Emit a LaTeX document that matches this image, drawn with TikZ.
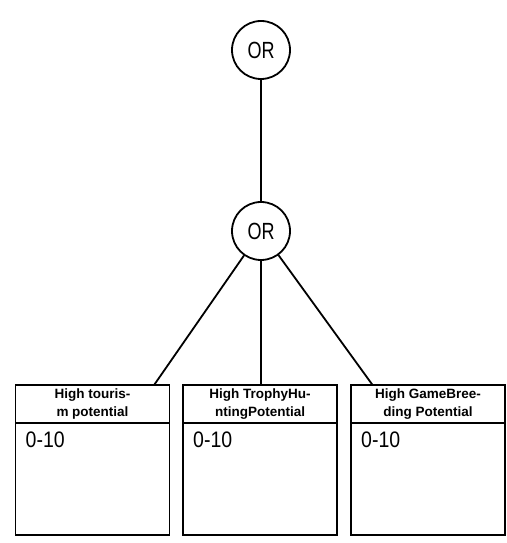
\documentclass[tikz,border=0pt]{standalone}
\usepackage{fontspec}
\setmainfont{Liberation Sans}
\usetikzlibrary{positioning,calc}

\newcommand{\tallword}[2]{\scalebox{1}[#1]{#2}}

\begin{document}
\begin{tikzpicture}[x=1pt,y=1pt,
  node distance=0pt,
  gate/.style={draw,circle,line width=1.8pt,minimum size=58pt,inner sep=0pt,font=\fontsize{18}{22}\selectfont},
  head/.style={draw,line width=1.8pt,outer sep=0pt,minimum width=154pt,minimum height=38pt,inner sep=2pt,align=center,font=\bfseries\fontsize{13.5}{18}\selectfont},
  body/.style={draw,line width=1.8pt,outer sep=0pt,minimum width=154pt,minimum height=112pt},
  val/.style={anchor=north west,inner sep=0pt,font=\fontsize{19.5}{24}\selectfont},
  link/.style={line width=1.8pt}
]
\useasboundingbox (0,0) rectangle (506,543);
\node[gate] (top) at (261,493) {\tallword{1.3}{OR}};
\node[gate] (mid) at (261,312) {\tallword{1.3}{OR}};
\node[head] (h1) at (92.5,139) {High touris-\\m potential};
\node[head] (h2) at (260,139) {High TrophyHu-\\ntingPotential};
\node[head] (h3) at (428,139) {High GameBree-\\ding Potential};
\node[body,below=of h1] (b1) {};
\node[body,below=of h2] (b2) {};
\node[body,below=of h3] (b3) {};
\node[val] (v1) at ($(b1.north west)+(10,-9)$) {\tallword{1.15}{0-10}};
\node[val] (v2) at ($(b2.north west)+(10,-9)$) {\tallword{1.15}{0-10}};
\node[val] (v3) at ($(b3.north west)+(10,-9)$) {\tallword{1.15}{0-10}};
\draw[link] (top)--(mid);
\draw[link] (mid)--($(h1.north)!0.8!(h1.north east)$);
\draw[link] (mid.south)--(mid.south |- h2.north);
\draw[link] (mid)--($(h3.north)!0.72!(h3.north west)$);
\end{tikzpicture}
\end{document}
